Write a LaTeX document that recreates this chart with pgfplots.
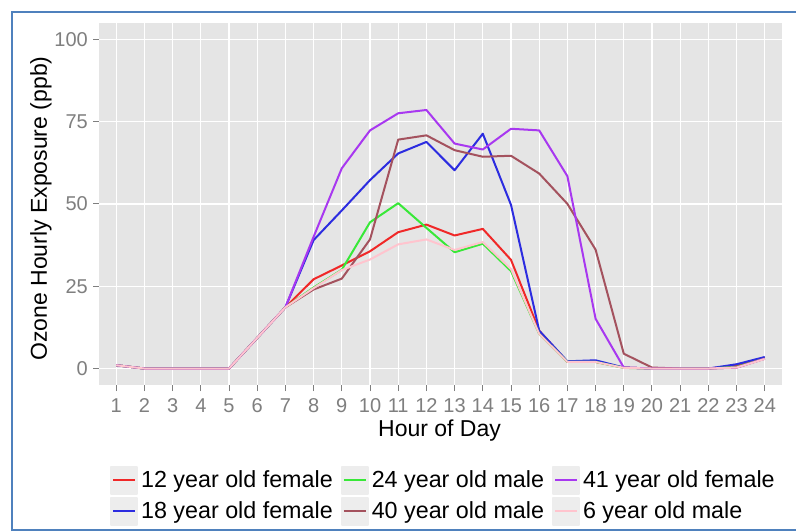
\documentclass[border=0pt]{standalone}
\usepackage{fontspec}
\setmainfont{Liberation Sans}
\usepackage{pgfplots}
\pgfplotsset{compat=1.18}
\usepackage{pgfplotstable}

\definecolor{panelbg}{HTML}{E5E5E5}
\definecolor{tickgray}{HTML}{7F7F7F}
\definecolor{cRed}{HTML}{F02828}
\definecolor{cBlue}{HTML}{2C2CE0}
\definecolor{cGreen}{HTML}{38E838}
\definecolor{cBrown}{HTML}{A4525E}
\definecolor{cPurple}{HTML}{A838F0}
\definecolor{cPink}{HTML}{FFC4CE}
\definecolor{frameblue}{HTML}{4F81BD}
\definecolor{keybg}{HTML}{EDEDED}

\pgfplotstableread{
hour f12  f18  m24  m40  f41  m6
1    1.0  1.0  1.0  1.0  1.0  1.0
2    0    0    0    0    0    0
3    0    0    0    0    0    0
4    0    0    0    0    0    0
5    0    0    0    0    0    0
6    9.3  9.3  9.3  9.3  9.3  9.3
7    18.6 18.6 18.6 18.6 18.6 18.6
8    27.1 39.0 24.6 24.0 40.0 24.4
9    31.3 48.0 30.0 27.3 60.8 29.9
10   35.6 57.2 44.4 39.2 72.3 33.1
11   41.4 65.3 50.2 69.5 77.5 37.7
12   43.7 68.8 42.7 70.8 78.5 39.2
13   40.4 60.2 35.3 66.3 68.3 36.0
14   42.4 71.3 37.9 64.3 66.5 38.4
15   33.0 49.7 29.6 64.6 72.8 30.2
16   11.5 11.5 10.5 59.2 72.3 10.5
17   2.0  2.2  2.0  50.0 58.4 2.0
18   2.0  2.5  2.0  36.1 15.1 2.0
19   0.3  0.3  0.2  4.5  0.3  0.2
20   0    0    0    0.3  0    0
21   0    0    0    0    0    0
22   0    0    0    0    0    0
23   0.8  1.3  0.5  0.3  0.3  0.3
24   3.2  3.5  3.0  3.0  3.0  2.9
}\data

\begin{document}
\begin{tikzpicture}
\useasboundingbox (0,0) rectangle (796pt,531pt);
\fill[white] (0,0) rectangle (796pt,531pt);
\draw[frameblue, line width=2pt] (12pt,0) -- (12pt,519pt) -- (796pt,519pt);
\draw[frameblue, line width=2pt] (12pt,1.5pt) -- (796pt,1.5pt);
\begin{axis}[
  at={(99.3pt,146pt)}, anchor=south west,
  scale only axis, width=682.4pt, height=362.3pt,
  xmin=0.4, xmax=24.6, ymin=-5, ymax=105,
  axis background/.style={fill=panelbg},
  axis line style={draw=none},
  xtick={1,...,24}, ytick={0,25,50,75,100},
  grid=major, major grid style={white, line width=1.3pt},
  tick pos=left, tick align=outside, major tick length=6pt,
  tick style={tickgray, line width=1pt},
  ticklabel style={font=\fontsize{20}{24}\selectfont, text=tickgray},
  yticklabel style={xshift=-2pt},
  xticklabel style={yshift=-4pt},
  /pgf/number format/assume math mode=true,
  xlabel={Hour of Day}, ylabel={Ozone Hourly Exposure (ppb)},
  label style={font=\fontsize{23}{27}\selectfont, text=black},
  xlabel style={at={(axis description cs:0.4986,-0.126)}, anchor=center},
  ylabel style={at={(axis description cs:-0.0854,0.487)}, anchor=center},
  legend columns=3,
  legend cell align=left,
  legend image code/.code={\fill[keybg] (0pt,-13.5pt) rectangle (26pt,13.5pt);
    \draw[#1] (2pt,0pt) -- (24pt,0pt);},
  legend style={draw=none, fill=none, at={(0.505,-0.305)}, anchor=center,
    font=\fontsize{23.3}{27}\selectfont, row sep=2pt, inner sep=0pt,
    nodes={inner xsep=3pt, inner ysep=0pt},
    /tikz/every even column/.append style={column sep=5pt}},
  every axis plot/.append style={line width=2pt, line join=round},
]
\addlegendimage{cRed, line width=2pt}\addlegendentry{12 year old female}
\addlegendimage{cGreen, line width=2pt}\addlegendentry{24 year old male}
\addlegendimage{cPurple, line width=2pt}\addlegendentry{41 year old female}
\addlegendimage{cBlue, line width=2pt}\addlegendentry{18 year old female}
\addlegendimage{cBrown, line width=2pt}\addlegendentry{40 year old male}
\addlegendimage{cPink, line width=2pt}\addlegendentry{6 year old male}
\addplot[cRed, forget plot] table[x=hour, y=f12] {\data};
\addplot[cBlue, forget plot] table[x=hour, y=f18] {\data};
\addplot[cGreen, forget plot] table[x=hour, y=m24] {\data};
\addplot[cBrown, forget plot] table[x=hour, y=m40] {\data};
\addplot[cPurple, forget plot] table[x=hour, y=f41] {\data};
\addplot[cPink, forget plot] table[x=hour, y=m6] {\data};
\end{axis}
\end{tikzpicture}
\end{document}
